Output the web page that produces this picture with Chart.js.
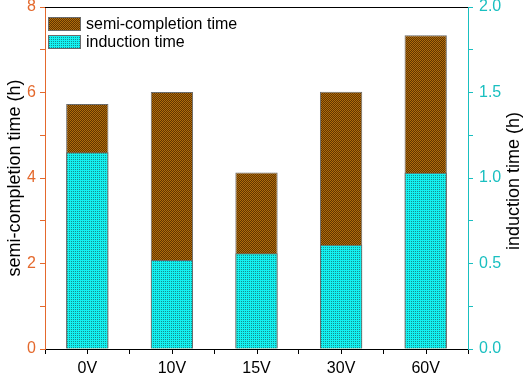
<!DOCTYPE html>
<html>
<head>
<meta charset="utf-8">
<script src="https://cdn.jsdelivr.net/npm/chart.js@4.4.1/dist/chart.umd.min.js"></script>
<style>
  html, body { margin: 0; padding: 0; background: #fff; }
  #wrap { width: 526px; height: 373px; }
</style>
</head>
<body>
<div id="wrap"><canvas id="chart" width="526" height="373"></canvas></div>
<script>
const categories = ['0V', '10V', '15V', '30V', '60V'];
const semiCompletion = [5.73, 6.01, 4.13, 6.02, 7.34];   // left axis (h)
const induction = [1.15, 0.52, 0.56, 0.61, 1.03];         // right axis (h)
const leftTicks = [0, 2, 4, 6, 8];
const rightTicks = [0, 0.5, 1.0, 1.5, 2.0];

const ORANGE = '#e4692d';
const CYAN = '#19bfc0';
const FONT = 'Liberation Sans, Arial';

// small tiles for the hatched fills
function makePattern(colors) {
    const c = document.createElement('canvas');
    c.width = 2; c.height = 2;
    const g = c.getContext('2d');
    colors.forEach((col, i) => {
        g.fillStyle = col;
        g.fillRect(i % 2, Math.floor(i / 2), 1, 1);
    });
    return g.createPattern(c, 'repeat');
}
const brownFill = makePattern(['#b06c0c', '#623600', '#623600', '#b06c0c']);
const cyanFill = makePattern(['#12f2f2', '#12f2f2', '#12f2f2', '#168e8e']);

// top frame line, centre ticks, legend and right title
const framePlugin = {
    id: 'frame',
    afterDraw(chart) {
        const ctx = chart.ctx;
        const area = chart.chartArea;
        const x = chart.scales.x;
        ctx.save();
        ctx.strokeStyle = '#000';
        ctx.lineWidth = 1;
        ctx.beginPath();
        ctx.moveTo(area.left, area.top + 0.5);
        ctx.lineTo(area.right, area.top + 0.5);
        categories.forEach((c, i) => {
            const px = Math.round(x.getPixelForValue(i)) + 0.5;
            ctx.moveTo(px, area.bottom);
            ctx.lineTo(px, area.bottom + 5);
        });
        ctx.stroke();

        // legend
        ctx.font = '16px ' + FONT;
        ctx.textBaseline = 'middle';
        ctx.textAlign = 'left';
        chart.data.datasets.forEach((ds, i) => {
            const bx = area.left + 3, by = area.top + 10 + i * 18;
            ctx.fillStyle = ds.backgroundColor;
            ctx.fillRect(bx, by, 33, 14);
            ctx.strokeStyle = '#6b6b6b';
            ctx.strokeRect(bx + 0.5, by + 0.5, 32, 13);
            ctx.fillStyle = '#000';
            ctx.fillText(ds.label, bx + 38, by + 8);
        });

        // right axis title, reading bottom to top
        ctx.translate(514, (area.top + area.bottom) / 2 + 3);
        ctx.rotate(-Math.PI / 2);
        ctx.textAlign = 'center';
        ctx.font = '18px ' + FONT;
        ctx.fillText('induction time (h)', 0, 0);
        ctx.restore();
    }
};

const ctx = document.getElementById('chart').getContext('2d');
new Chart(ctx, {
    type: 'bar',
    data: {
        labels: categories,
        datasets: [
            {
                label: 'semi-completion time',
                data: semiCompletion,
                yAxisID: 'y',
                backgroundColor: brownFill,
                borderColor: '#6b6b6b',
                borderWidth: 1,
                order: 1
            },
            {
                label: 'induction time',
                data: induction,
                yAxisID: 'y1',
                backgroundColor: cyanFill,
                borderColor: '#6b6b6b',
                borderWidth: 1,
                order: 0
            }
        ]
    },
    options: {
        responsive: false,
        animation: false,
        layout: { padding: { top: 7 } },
        datasets: {
            bar: { grouped: false, barPercentage: 1, categoryPercentage: 0.5 }
        },
        plugins: {
            tooltip: { enabled: false },
            legend: { display: false }
        },
        scales: {
            x: {
                offset: true,
                grid: { offset: true, drawOnChartArea: false, tickLength: 5, tickColor: '#000' },
                border: { color: '#000', width: 1 },
                ticks: { color: '#000', padding: 5, font: { family: FONT, size: 16 } },
                afterFit: s => { s.height = 24; s.paddingLeft = 0; s.paddingRight = 0; }
            },
            y: {
                position: 'left',
                min: 0,
                max: 8,
                ticks: {
                    stepSize: 1,
                    color: ORANGE,
                    padding: 4,
                    font: { family: FONT, size: 16 },
                    callback: v => leftTicks.includes(v) ? v : ''
                },
                grid: { drawOnChartArea: false, tickLength: 5, tickColor: ORANGE },
                border: { color: ORANGE, width: 1 },
                title: {
                    display: true,
                    text: 'semi-completion time (h)',
                    color: '#000',
                    padding: { top: 4, bottom: 0 },
                    font: { family: FONT, size: 18 }
                },
                afterFit: s => { s.width = 45; s.paddingTop = 0; s.paddingBottom = 0; }
            },
            y1: {
                position: 'right',
                min: 0,
                max: 2,
                ticks: {
                    stepSize: 0.25,
                    color: CYAN,
                    padding: 6,
                    font: { family: FONT, size: 16 },
                    callback: v => rightTicks.includes(v) ? v.toFixed(1) : ''
                },
                grid: { drawOnChartArea: false, tickLength: 5, tickColor: CYAN },
                border: { color: CYAN, width: 1 },
                afterFit: s => { s.width = 58; s.paddingTop = 0; s.paddingBottom = 0; }
            }
        }
    },
    plugins: [framePlugin]
});
</script>
</body>
</html>
